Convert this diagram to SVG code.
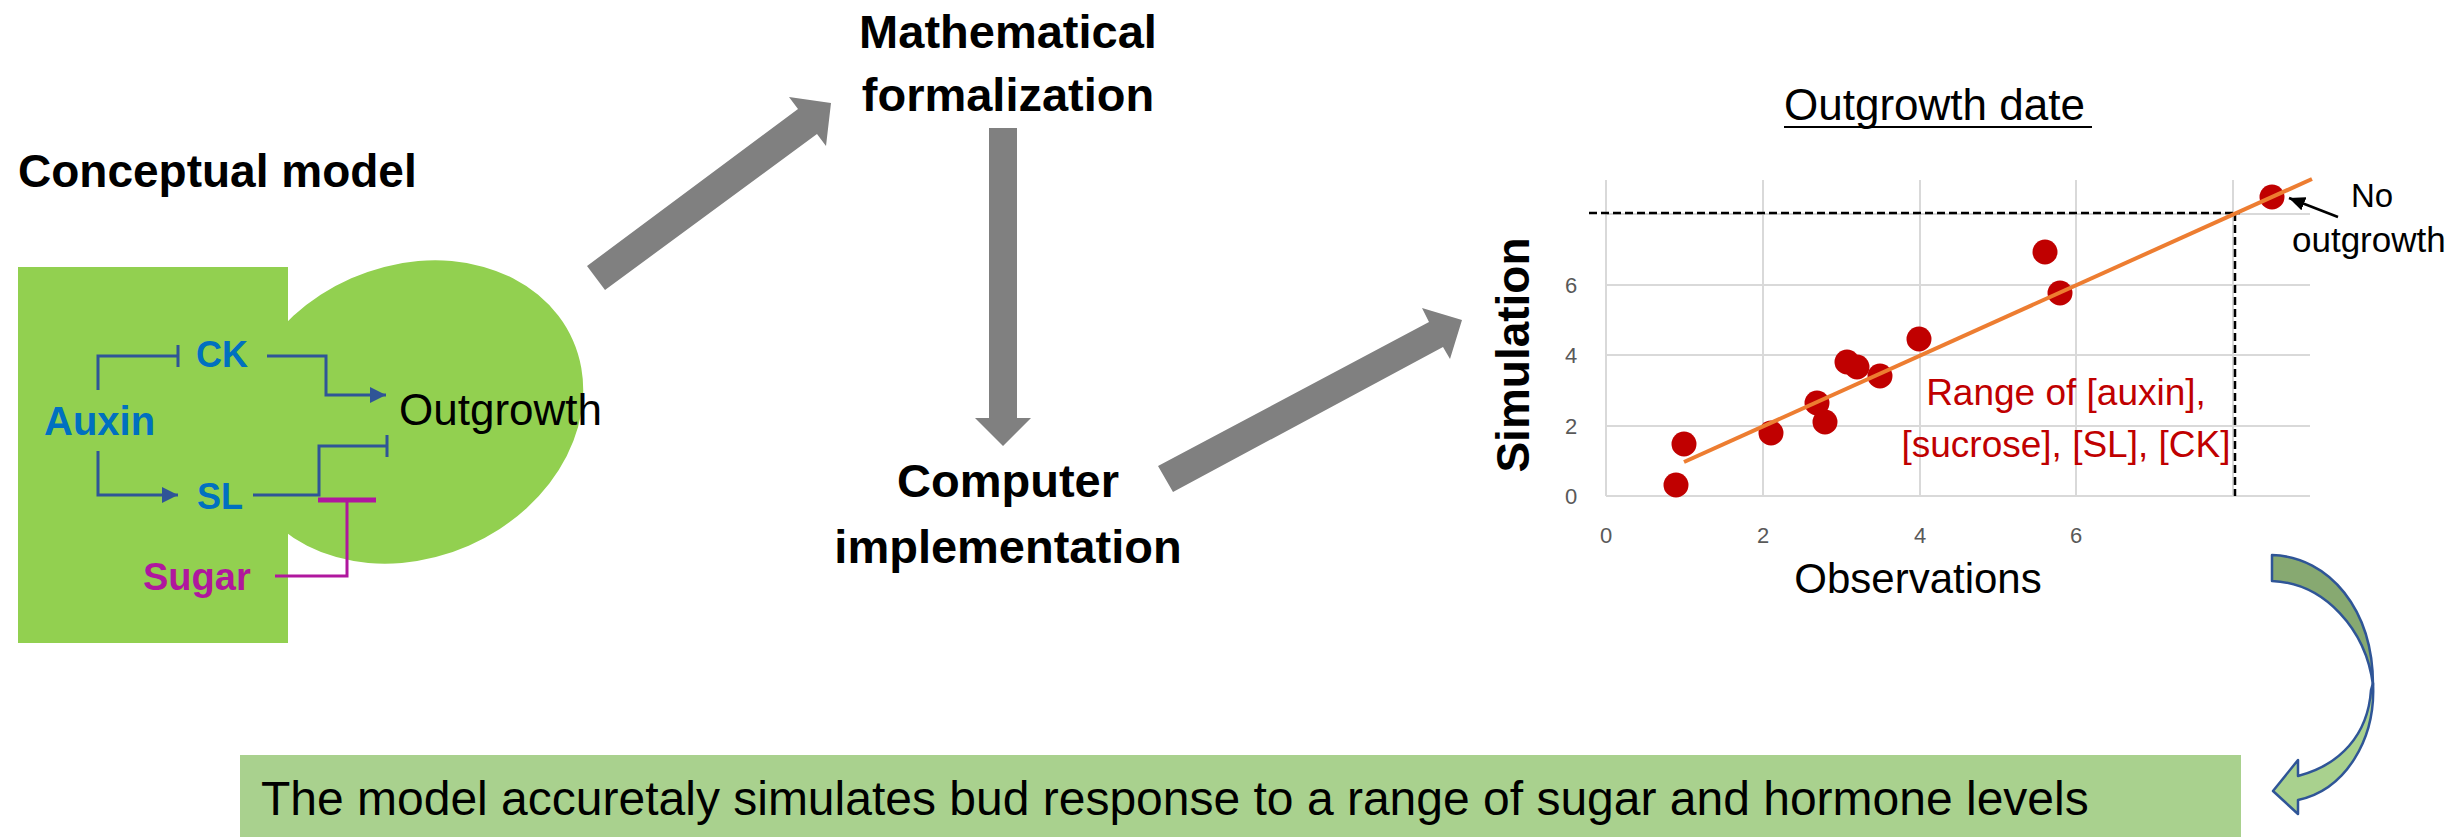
<svg xmlns="http://www.w3.org/2000/svg" width="2455" height="837" viewBox="0 0 2455 837">
<style>
text{font-family:"Liberation Sans",Arial,sans-serif}
.b{font-weight:bold}
.blue{fill:#0070C0;font-weight:bold}
.conn{fill:none;stroke:#2F5597;stroke-width:3}
.big{fill:#808080}
.grid{stroke:#D9D9D9;stroke-width:2}
.tick{font-size:22px;fill:#595959;text-anchor:middle}
.dot{fill:#C00000}
.red{fill:#C00000;font-size:37px;text-anchor:middle}
</style>
<defs>
<marker id="arr" markerUnits="userSpaceOnUse" markerWidth="16" markerHeight="16" viewBox="0 0 16 16" refX="16" refY="8" orient="auto"><path d="M0,0 L16,8 L0,16 Z" fill="#2F5597"/></marker>
<marker id="tee" markerUnits="userSpaceOnUse" markerWidth="4" markerHeight="24" viewBox="0 0 4 24" refX="2" refY="12" orient="auto"><path d="M2,1 V23" stroke="#2F5597" stroke-width="3"/></marker>
<marker id="teeM" markerUnits="userSpaceOnUse" markerWidth="6" markerHeight="58" viewBox="0 0 6 58" refX="3" refY="29" orient="auto"><path d="M3,0 V58" stroke="#B0179E" stroke-width="5"/></marker>
<marker id="blk" markerUnits="userSpaceOnUse" markerWidth="16" markerHeight="14" viewBox="0 0 16 14" refX="16" refY="7" orient="auto"><path d="M0,0 L16,7 L0,14 Z" fill="#000"/></marker>
</defs>
<rect width="2455" height="837" fill="#fff"/>

<g id="conceptual-model">
<text x="18" y="187" class="b" font-size="46">Conceptual model</text>
<ellipse cx="410" cy="412" rx="178" ry="146" transform="rotate(-23.7 410 412)" fill="#92D050"/>
<rect x="18" y="267" width="270" height="376" fill="#92D050"/>
</g>
<g id="node-auxin"><text x="44" y="435" class="blue" font-size="40">Auxin</text></g>
<g id="node-ck"><text x="196" y="367" class="blue" font-size="36">CK</text></g>
<g id="node-sl"><text x="197" y="509" class="blue" font-size="36">SL</text></g>
<g id="node-sugar"><text x="143" y="590" class="b" font-size="38" fill="#B0179E">Sugar</text></g>
<g id="node-outgrowth"><text x="399" y="425" font-size="44">Outgrowth</text></g>

<g id="node-math"><text x="1008" y="48" class="b" font-size="47" text-anchor="middle">Mathematical</text><text x="1008" y="111" class="b" font-size="47" text-anchor="middle">formalization</text></g>
<g id="node-computer"><text x="1008" y="497" class="b" font-size="47" text-anchor="middle">Computer</text><text x="1008" y="563" class="b" font-size="47" text-anchor="middle">implementation</text></g>

<g id="chart">
<text x="1784" y="120" font-size="44">Outgrowth date</text>
<line x1="1784" y1="127" x2="2092" y2="127" stroke="#000" stroke-width="2"/>
<g class="grid">
<line x1="1763" y1="180" x2="1763" y2="496"/>
<line x1="1920" y1="180" x2="1920" y2="496"/>
<line x1="2076" y1="180" x2="2076" y2="496"/>
<line x1="2233" y1="180" x2="2233" y2="496"/>
<line x1="1606" y1="214" x2="2310" y2="214"/>
<line x1="1606" y1="285" x2="2310" y2="285"/>
<line x1="1606" y1="355" x2="2310" y2="355"/>
<line x1="1606" y1="426" x2="2310" y2="426"/>
<line x1="1606" y1="180" x2="1606" y2="496"/>
<line x1="1606" y1="496" x2="2310" y2="496"/>
</g>
<text class="tick" x="1571" y="504">0</text>
<text class="tick" x="1571" y="434">2</text>
<text class="tick" x="1571" y="363">4</text>
<text class="tick" x="1571" y="293">6</text>
<text class="tick" x="1606" y="543">0</text>
<text class="tick" x="1763" y="543">2</text>
<text class="tick" x="1920" y="543">4</text>
<text class="tick" x="2076" y="543">6</text>
<text transform="translate(1529,355) rotate(-90)" class="b" font-size="46" text-anchor="middle">Simulation</text>
<text x="1918" y="593" font-size="42" text-anchor="middle">Observations</text>
<path d="M1589,213 H2240 M2235,213 V496" fill="none" stroke="#000" stroke-width="2.5" stroke-dasharray="8,4"/>
<g class="dot">
<circle cx="1676" cy="485" r="12.5"/>
<circle cx="1684" cy="444" r="12.5"/>
<circle cx="1771" cy="433" r="12.5"/>
<circle cx="1817" cy="403" r="12.5"/>
<circle cx="1825" cy="422" r="12.5"/>
<circle cx="1847" cy="362" r="12.5"/>
<circle cx="1857" cy="367" r="12.5"/>
<circle cx="1880" cy="376" r="12.5"/>
<circle cx="1919" cy="339" r="12.5"/>
<circle cx="2045" cy="252" r="12.5"/>
<circle cx="2060" cy="293" r="12.5"/>
<circle cx="2272" cy="197" r="12.5"/>
</g>
<line x1="1684" y1="462" x2="2312" y2="179" stroke="#ED7D31" stroke-width="4"/>
<text class="red" x="2066" y="405">Range of [auxin],</text>
<text class="red" x="2066" y="457">[sucrose], [SL], [CK]</text>
<line x1="2338" y1="217" x2="2289" y2="198" stroke="#000" stroke-width="2.5" marker-end="url(#blk)"/>
<text x="2351" y="207" font-size="33">No</text>
<text x="2292" y="252" font-size="35">outgrowth</text>
</g>

<g id="conclusion">
<rect x="240" y="755" width="2001" height="82" fill="#A9D18E"/>
<text x="261" y="815" font-size="48">The model accuretaly simulates bud response to a range of sugar and hormone levels</text>
</g>

<g id="connectors">
<path class="conn" d="M98,390 V356 H178" marker-end="url(#tee)"/>
<path class="conn" d="M267,356 H326 V395 H386" marker-end="url(#arr)"/>
<path class="conn" d="M98,451 V495 H178" marker-end="url(#arr)"/>
<path class="conn" d="M253,495 H319 V446 H387" marker-end="url(#tee)"/>
<path d="M275,576 H347 V500" fill="none" stroke="#B0179E" stroke-width="3" marker-end="url(#teeM)"/>
<polygon class="big" points="587,266 798,109 789,97 831,103 826,146 817,134 605,290"/>
<polygon class="big" points="989,128 1017,128 1017,418 1031,418 1003,446 975,418 989,418"/>
<polygon class="big" points="1158,466 1429,322 1422,308 1462,320 1450,359 1443,347 1173,492"/>
<path d="M2272,555 C2330,557 2373,610 2373,685 C2366,630 2325,583 2272,581 Z" fill="#87A971" stroke="#2F5597" stroke-width="2.5" stroke-linejoin="round"/>
<path d="M2373,683 C2376,740 2345,790 2298,800 L2298,814 L2273,791 L2298,760 L2298,776 C2340,765 2368,735 2371,690 Z" fill="#A9D18E" stroke="#2F5597" stroke-width="2.5" stroke-linejoin="round"/>
</g>
</svg>
